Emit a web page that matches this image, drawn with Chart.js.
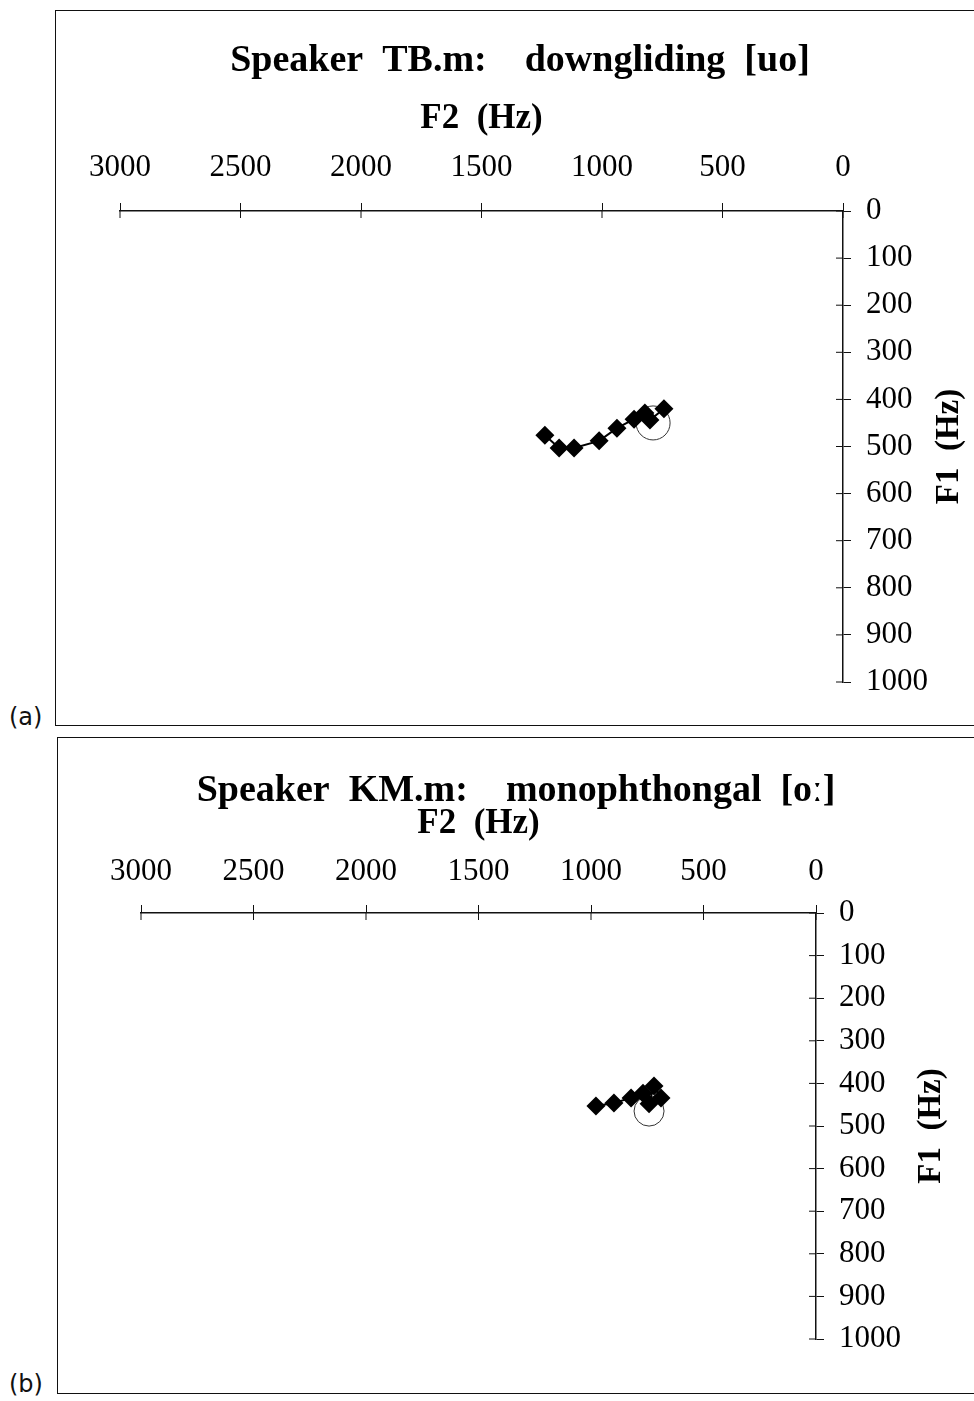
<!DOCTYPE html>
<html>
<head>
<meta charset="utf-8">
<script src="https://cdn.jsdelivr.net/npm/chart.js@4.4.1/dist/chart.umd.min.js"></script>
<style>
  body { margin: 0; background: #fff; width: 974px; height: 1401px; position: relative; overflow: hidden; }
  .panel { position: absolute; border-top: 1.5px solid #111; border-left: 1.5px solid #111; border-bottom: 1.5px solid #111; box-sizing: border-box; }
  .panel canvas { position: absolute; left: 0; top: 0; }
  .etiqueta { position: absolute; left: 9px; font: 24px "DejaVu Sans", sans-serif; color: #111; }
</style>
</head>
<body>
<div class="panel" id="panelA" style="left:55px; top:10px; width:919px; height:716px;">
  <canvas id="graficoA" width="919" height="715"></canvas>
</div>
<div class="etiqueta" style="top:703px;">(a)</div>
<div class="panel" id="panelB" style="left:57px; top:737px; width:917px; height:657px;">
  <canvas id="graficoB" width="917" height="656"></canvas>
</div>
<div class="etiqueta" style="top:1370px;">(b)</div>

<script>
// ticks
const ticksF2 = [0, 500, 1000, 1500, 2000, 2500, 3000];
const ticksF1 = [0, 100, 200, 300, 400, 500, 600, 700, 800, 900, 1000];

// speaker TB.m, downgliding [uo]
const f2TB = [1237, 1178, 1116, 1012, 938, 867, 822, 801, 743];
const f1TB = [476, 503, 503, 488, 461, 442, 429, 444, 420];
const circuloTB = { f2: 788, f1: 450 };

// speaker KM.m, monophthongal [o:]
const f2KM = [978, 898, 822, 769, 742, 720, 689];
const f1KM = [453, 446, 434, 423, 448, 406, 434];
const circuloKM = { f2: 742, f1: 465 };

Chart.defaults.font.family = '"Liberation Serif", "Times New Roman", serif';
Chart.defaults.color = '#000';

// ticks that cross the axis line, main title and rotated F1 title
const marcasCruzadas = {
    id: 'marcasCruzadas',
    afterDraw(chart, args, opts) {
        const c = chart.ctx;
        const a = chart.chartArea;
        const x = chart.scales.x;
        const y = chart.scales.y;
        c.save();
        c.strokeStyle = '#111';
        c.lineWidth = 1;
        x.ticks.forEach(t => {
            const px = x.getPixelForValue(t.value);
            c.beginPath();
            c.moveTo(px, a.top);
            c.lineTo(px, a.top + 7);
            c.stroke();
        });
        y.ticks.forEach(t => {
            const py = y.getPixelForValue(t.value);
            c.beginPath();
            c.moveTo(a.right - 7, py);
            c.lineTo(a.right, py);
            c.stroke();
        });

        c.fillStyle = '#000';
        c.textAlign = 'center';
        c.textBaseline = 'middle';
        c.font = 'bold 38px "Liberation Serif", serif';
        c.fillText(opts.titulo, opts.tituloX, opts.tituloY);

        c.translate(opts.f1X, (a.top + a.bottom) / 2);
        c.rotate(-Math.PI / 2);
        c.font = 'bold 33px "Liberation Serif", serif';
        c.fillText('F1  (Hz)', 0, 0);
        c.restore();
    }
};

function dibujaGrafico(canvasId, titulo, f2, f1, circulo, medidas) {
    const puntos = f2.map((v, i) => ({ x: v, y: f1[i] }));

    new Chart(document.getElementById(canvasId), {
        type: 'scatter',
        data: {
            datasets: [{
                data: puntos,
                showLine: true,
                borderColor: '#000',
                backgroundColor: '#000',
                borderWidth: 2,
                pointStyle: 'rectRot',
                pointRadius: 9.5,
                pointBorderWidth: 0,
                tension: 0
            }, {
                data: [{ x: circulo.f2, y: circulo.f1 }],
                pointStyle: 'circle',
                pointRadius: medidas.radio,
                pointBorderWidth: 1,
                borderColor: '#333',
                backgroundColor: 'rgba(0,0,0,0)'
            }]
        },
        options: {
            responsive: false,
            animation: false,
            layout: {
                padding: { left: medidas.izq, right: 0, top: 0, bottom: medidas.abajo }
            },
            plugins: {
                legend: { display: false },
                tooltip: { enabled: false },
                title: { display: false },
                marcasCruzadas: {
                    titulo: titulo,
                    tituloX: medidas.tituloX,
                    tituloY: medidas.tituloY,
                    f1X: medidas.f1X
                }
            },
            scales: {
                x: {
                    type: 'linear',
                    position: 'top',
                    reverse: true,
                    min: 0,
                    max: 3000,
                    afterBuildTicks: s => { s.ticks = ticksF2.map(v => ({ value: v })); },
                    afterFit: s => { s.height = medidas.altoX; },
                    grid: { drawOnChartArea: false, drawTicks: true, tickLength: 8, color: '#111' },
                    border: { display: true, color: '#111', width: 1.5 },
                    ticks: {
                        autoSkip: false,
                        maxRotation: 0,
                        padding: medidas.padX,
                        font: { size: 31, lineHeight: 1 },
                        color: '#000',
                        callback: v => String(v)
                    },
                    title: {
                        display: true,
                        text: 'F2  (Hz)',
                        font: { size: 35, weight: 'bold', lineHeight: 1 },
                        color: '#000',
                        padding: { top: medidas.f2Arriba, bottom: 0 }
                    }
                },
                y: {
                    type: 'linear',
                    position: 'right',
                    reverse: true,
                    min: 0,
                    max: 1000,
                    afterBuildTicks: s => { s.ticks = ticksF1.map(v => ({ value: v })); },
                    afterFit: s => { s.width = medidas.anchoY; },
                    grid: { drawOnChartArea: false, drawTicks: true, tickLength: 8, color: '#111' },
                    border: { display: true, color: '#111', width: 1.5 },
                    ticks: {
                        autoSkip: false,
                        padding: 15,
                        font: { size: 31, lineHeight: 1 },
                        color: '#000',
                        callback: v => String(v)
                    }
                }
            }
        },
        plugins: [marcasCruzadas]
    });
}

dibujaGrafico('graficoA', 'Speaker  TB.m:    downgliding  [uo]', f2TB, f1TB, circuloTB, {
    izq: 64, abajo: 44, anchoY: 132, altoX: 200,
    f2Arriba: 90.5, padX: 19.5, tituloX: 464, tituloY: 50, f1X: 893, radio: 17
});

dibujaGrafico('graficoB', 'Speaker  KM.m:    monophthongal  [oː]', f2KM, f1KM, circuloKM, {
    izq: 83, abajo: 55, anchoY: 159, altoX: 175,
    f2Arriba: 68.5, padX: 17.5, tituloX: 458, tituloY: 53, f1X: 873, radio: 15
});
</script>
</body>
</html>
